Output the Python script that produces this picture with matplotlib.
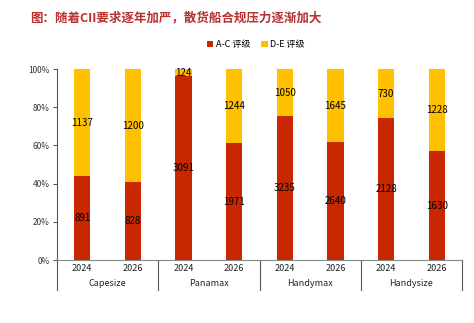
import matplotlib
matplotlib.use("Agg")
import matplotlib.pyplot as plt
import numpy as np

plt.rcParams["font.family"] = ["Noto Sans CJK SC", "DejaVu Sans"]

groups = ["Capesize", "Panamax", "Handymax", "Handysize"]
years = ["2024", "2026"]
ac_counts = [891, 828, 3091, 1971, 3235, 2640, 2128, 1630]
de_counts = [1137, 1200, 124, 1244, 1050, 1645, 730, 1228]

red = "#C82800"
yellow = "#FFC000"

ac = np.array(ac_counts, dtype=float)
de = np.array(de_counts, dtype=float)
total = ac + de
ac_pct = ac / total
de_pct = de / total

fig = plt.figure(figsize=(4.74, 3.23), dpi=100)
ax = fig.add_axes([0.120, 0.195, 0.855, 0.591])

x = np.arange(len(ac_counts))
w = 0.32
ax.bar(x, ac_pct, width=w, color=red, label="A-C 评级")
ax.bar(x, de_pct, width=w, bottom=ac_pct, color=yellow, label="D-E 评级")

for i in x:
    ax.text(i, ac_pct[i] / 2, str(ac_counts[i]), ha="center", va="center", fontsize=7, color="black")
    ax.text(i, ac_pct[i] + de_pct[i] / 2, str(de_counts[i]), ha="center", va="center", fontsize=7, color="black")

ax.set_xlim(-0.5, len(x) - 0.5)
ax.set_ylim(0, 1)
ax.set_yticks(np.arange(0, 1.01, 0.2))
ax.set_yticklabels([f"{int(v * 100)}%" for v in np.arange(0, 1.01, 0.2)], fontsize=6)
ax.tick_params(axis="y", length=3, width=0.6, pad=2, colors="#333333")
ax.set_xticks([])
for s in ["top", "right"]:
    ax.spines[s].set_visible(False)
ax.spines["left"].set_color("#555555")
ax.spines["bottom"].set_color("#888888")
ax.spines["left"].set_linewidth(0.8)
ax.spines["bottom"].set_linewidth(0.8)

trans = ax.get_xaxis_transform()
for i in x:
    ax.text(i, -0.045, years[i % 2], transform=trans, ha="center", va="center", fontsize=6.5, color="#222222")
for g, name in enumerate(groups):
    ax.text(2 * g + 0.5, -0.125, name, transform=trans, ha="center", va="center", fontsize=6.5, color="#222222")
for k in range(len(groups) + 1):
    ax.plot([2 * k - 0.5, 2 * k - 0.5], [0, -0.155], transform=trans, color="#555555", lw=0.8, clip_on=False)

fig.text(0.063, 0.945, "图：随着CII要求逐年加严，散货船合规压力逐渐加大", fontsize=9, color="#B83030",
         fontweight="bold", ha="left", va="center")
fig.legend(loc="center", bbox_to_anchor=(0.54, 0.862), ncol=2, frameon=False, fontsize=6.5,
           handlelength=0.7, handleheight=0.7, handletextpad=0.3, columnspacing=1.2)

fig.savefig("out.png", dpi=100)
